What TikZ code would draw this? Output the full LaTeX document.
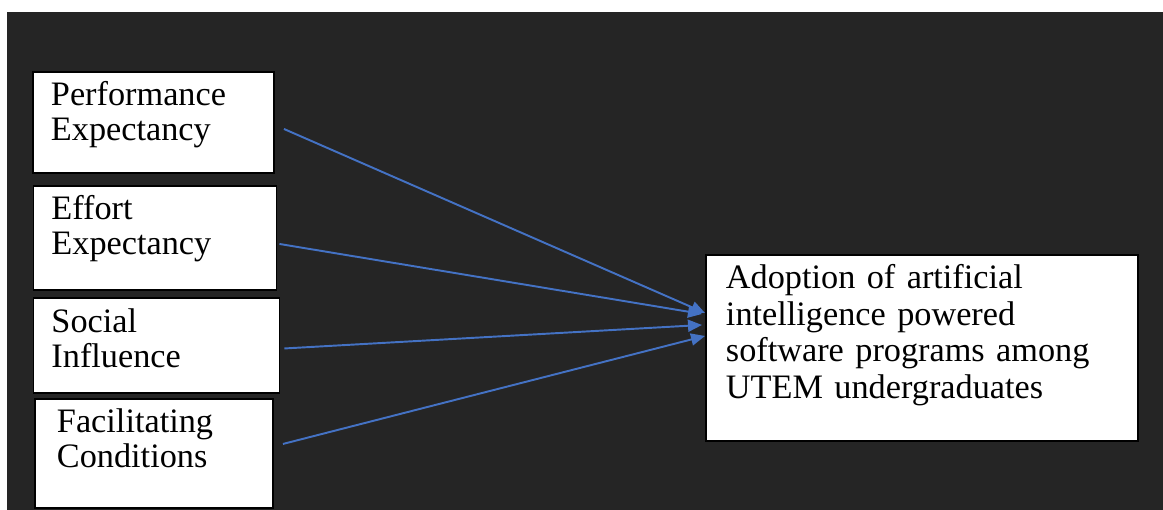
\documentclass[tikz,border=0pt]{standalone}
\usepackage{fontspec}
\setmainfont{Liberation Serif}
\usetikzlibrary{arrows.meta, positioning}

\definecolor{canvasdark}{RGB}{37, 37, 37}
\definecolor{linkblue}{RGB}{68, 114, 196}

\tikzset{
  factor/.style={draw=black, line width=1.1pt, fill=white, anchor=north west, align=left,
    inner xsep=0.36cm, inner ysep=0pt, text height=0.68cm,
    font=\fontsize{19.5}{19.9}\selectfont},
  link/.style={-{Triangle[length=0.28cm, width=0.24cm]}, linkblue, line width=1.1pt},
}

\begin{document}
\begin{tikzpicture}
  \useasboundingbox (0, 0) rectangle (23.26, -10.2);
  \fill[white] (0, 0) rectangle (23.26, -10.2);
  \fill[canvasdark] (0.14, -0.24) rectangle (23.26, -10.2);

  % UTAUT constructs
  \node[factor, text width=4.10cm, text depth=1.34cm] (pe) at (0.64, -1.42) {Performance\\Expectancy};
  \node[factor, text width=4.14cm, text depth=1.40cm] (ee) at (0.65, -3.70) {Effort\\Expectancy};
  \node[factor, text width=4.20cm, text depth=1.22cm] (si) at (0.65, -5.95) {Social\\Influence};
  \node[factor, inner xsep=0.44cm, text width=3.88cm, text depth=1.50cm] (fc) at (0.68, -7.96) {Facilitating\\Conditions};

  % Outcome
  \node[factor, inner xsep=0.40cm, text width=7.84cm, text depth=3.04cm,
    font=\fontsize{19.5}{20.7}\selectfont] (ad) at (14.10, -5.08)
    {Adoption of artificial\\intelligence powered\\software programs among\\UTEM undergraduates};

  % Paths into the outcome
  \draw[link] ([shift={(0.18,-0.13)}]pe.east) -- ([yshift=0.70cm]ad.west);
  \draw[link] ([shift={(0.04,-0.12)}]ee.east) -- ([shift={(-0.06,0.68)}]ad.west);
  \draw[link] ([shift={(0.08,-0.05)}]si.east) -- ([shift={(-0.06,0.46)}]ad.west);
  \draw[link] ([shift={(0.18,0.19)}]fc.east) -- ([yshift=0.24cm]ad.west);
\end{tikzpicture}
\end{document}
